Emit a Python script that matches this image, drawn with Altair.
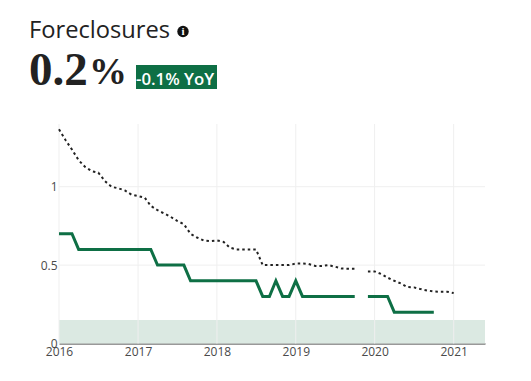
import altair as alt
import pandas as pd

months = pd.date_range("2016-01-01", "2021-01-01", freq="MS").strftime("%Y-%m-%d").tolist()

green = [0.7, 0.7, 0.7, 0.6, 0.6, 0.6, 0.6, 0.6, 0.6, 0.6, 0.6, 0.6, 0.6, 0.6, 0.6,
         0.5, 0.5, 0.5, 0.5, 0.5, 0.4, 0.4, 0.4, 0.4, 0.4, 0.4, 0.4, 0.4, 0.4, 0.4, 0.4,
         0.3, 0.3, 0.4, 0.3, 0.3, 0.4, 0.3, 0.3, 0.3, 0.3, 0.3, 0.3, 0.3, 0.3, 0.3,
         None, 0.3, 0.3, 0.3, 0.3, 0.2, 0.2, 0.2, 0.2, 0.2, 0.2, 0.2,
         None, None, None]

dotted = [1.366, 1.296, 1.237, 1.169, 1.126, 1.099, 1.09, 1.035, 0.999, 0.99, 0.976, 0.95,
          0.94, 0.93, 0.878, 0.85, 0.83, 0.808, 0.782, 0.761, 0.70, 0.676, 0.657, 0.653,
          0.657, 0.648, 0.612, 0.60, 0.60, 0.60, 0.60, 0.50, 0.50, 0.50, 0.50, 0.50,
          0.51, 0.51, 0.507, 0.495, 0.495, 0.50, 0.49, 0.478, 0.477, 0.477,
          None, 0.46, 0.46, 0.443, 0.42, 0.40, 0.383, 0.36, 0.358, 0.347, 0.338, 0.332,
          0.33, 0.33, 0.322]

year_ticks = ["2016-01-01", "2017-01-01", "2018-01-01", "2019-01-01", "2020-01-01", "2021-01-01"]
y_ticks = [0, 0.5, 1]
x_domain = ["2016-01-01", "2021-05-26"]
y_domain = [0, 1.4]
band = {"start": x_domain[0], "end": x_domain[1], "low": 0, "high": 0.15}

GREEN = "#0e6f45"
TEXT = "#4a4a4a"
GRID = "#efefef"

df = pd.DataFrame({"date": months, "green": green, "dotted": dotted})

x_scale = alt.Scale(type="utc", domain=x_domain)
y_scale = alt.Scale(domain=y_domain, nice=False)
x_enc = alt.X("date:T", scale=x_scale, title=None,
              axis=alt.Axis(values=year_ticks, format="%Y", grid=False, domain=True, ticks=False,
                            domainColor="#999999", domainWidth=2, labelColor=TEXT, labelFontSize=12,
                            labelFont="Open Sans", labelPadding=3, labelAlign="center",
                            labelBound=False, labelFlush=False))
y_enc = alt.Y("v:Q", scale=y_scale, title=None,
              axis=alt.Axis(values=y_ticks, format="~g", grid=False, domain=False, ticks=False,
                            labelColor=TEXT, labelFontSize=12, labelFont="Open Sans",
                            labelPadding=2, labelBound=False, labelFlush=False))

band_layer = alt.Chart(pd.DataFrame([band])).mark_rect(color="#dbe9e2").encode(
    x=alt.X("start:T", scale=x_scale, title=None), x2="end:T",
    y=alt.Y("low:Q", scale=y_scale, title=None), y2="high:Q")

vgrid = alt.Chart(pd.DataFrame({"date": year_ticks})).mark_rule(color=GRID, strokeWidth=1).encode(
    x=alt.X("date:T", scale=x_scale, title=None))
hgrid = alt.Chart(pd.DataFrame({"v": y_ticks[1:]})).mark_rule(color=GRID, strokeWidth=1).encode(
    y=alt.Y("v:Q", scale=y_scale, title=None))

dot_line = alt.Chart(df).transform_calculate(v="datum.dotted").mark_line(
    color="#222222", strokeWidth=2, strokeDash=[2.5, 3]).encode(x=x_enc, y=y_enc)
green_line = alt.Chart(df).transform_calculate(v="datum.green").mark_line(
    color=GREEN, strokeWidth=3).encode(x=x_enc, y=y_enc)

one = pd.DataFrame({"a": [1]})


def label(text, px, py, **kw):
    return alt.Chart(one).mark_text(text=text, align="left", baseline="alphabetic", **kw).encode(
        x=alt.value(px), y=alt.value(py))


title = label("Foreclosures", -30, -86, font="Open Sans", fontSize=23.7, color="#222222")
value = label("0.2", -30, -39, font="Liberation Serif", fontSize=47, fontWeight="bold", color="#222222")
percent = label("%", 30, -40, font="Liberation Serif", fontSize=38, fontWeight="bold", color="#222222")
badge = alt.Chart(one).mark_rect(color=GREEN).encode(
    x=alt.value(77), x2=alt.value(158), y=alt.value(-59), y2=alt.value(-35))
badge_text = label("-0.1% YoY", 77, -39, font="Open Sans", fontSize=16.8, fontWeight=600, color="#ffffff")
info = alt.Chart(one).mark_point(filled=True, color="#111111", size=130, opacity=1).encode(
    x=alt.value(124), y=alt.value(-92.5))
info_i = alt.Chart(one).mark_text(text="i", font="Liberation Serif", fontSize=11, fontWeight="bold",
                                  color="#ffffff", align="center", baseline="middle").encode(
    x=alt.value(124), y=alt.value(-92.5))

chart = alt.layer(band_layer, vgrid, hgrid, dot_line, green_line,
                  title, value, percent, badge, badge_text, info, info_i).properties(
    width=426, height=219.5,
    padding={"left": 51, "top": 116, "right": 20, "bottom": 20},
    autosize=alt.AutoSizeParams(type="none"),
).configure_view(stroke=None)

chart.save("out.html", embed_options={"renderer": "svg", "actions": False})
